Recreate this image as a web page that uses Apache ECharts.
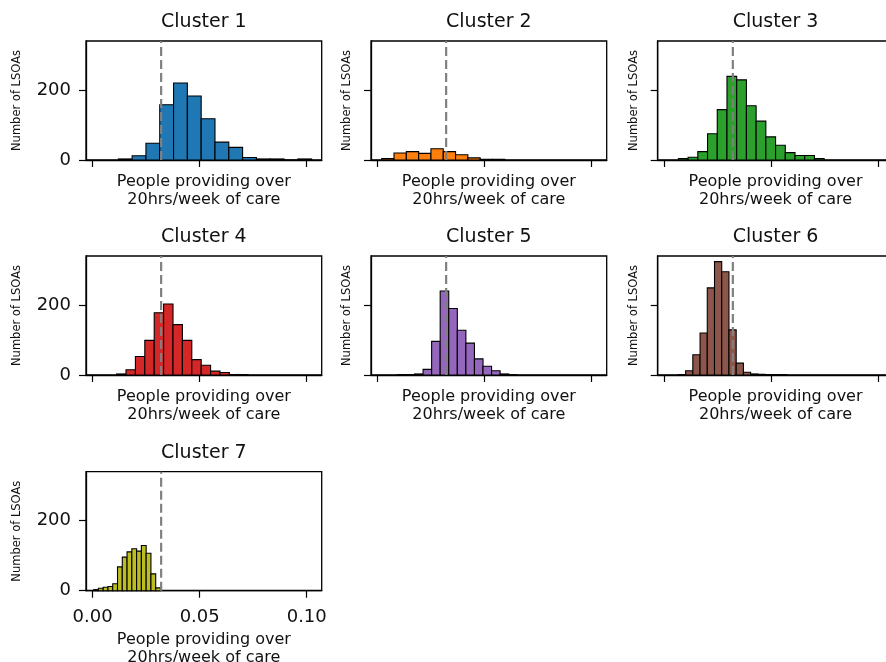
<!DOCTYPE html>
<html>
<head>
<meta charset="utf-8">
<script src="https://cdn.jsdelivr.net/npm/echarts@6/dist/echarts.min.js"></script>
<style>
    html, body { margin: 0; padding: 0; background: #fff; }
    #chart { width: 886px; height: 662px; }
</style>
</head>
<body>
<div id="chart"></div>
<script>
    // histogram per cluster: first bin edge, bin width, counts
    const clusterNames = ['Cluster 1', 'Cluster 2', 'Cluster 3', 'Cluster 4', 'Cluster 5', 'Cluster 6', 'Cluster 7'];
    const clusterColors = ['#1f77b4', '#ff7f0e', '#2ca02c', '#d62728', '#9467bd', '#8c564b', '#bcbd22'];
    const binStart = [0.0120, 0.0019, 0.00656, 0.0112, 0.00922, 0.00656, 0.00047];
    const binWidth = [0.00645, 0.00575, 0.00454, 0.00439, 0.0040, 0.003375, 0.00223];

    const counts1 = [3, 12, 48, 158, 220, 183, 118, 51, 36, 7, 3, 3, 0, 3];
    const counts2 = [4, 20, 24, 19, 32, 24, 15, 6, 2, 2];
    const counts3 = [4, 8, 24, 75, 144, 239, 229, 155, 111, 66, 42, 21, 13, 13, 4];
    const counts4 = [3, 15, 53, 99, 178, 203, 144, 99, 44, 28, 11, 7, 1, 1];
    const counts5 = [1, 1, 3, 16, 96, 240, 190, 128, 91, 46, 25, 12, 3, 1];
    const counts6 = [1, 12, 58, 120, 249, 324, 295, 129, 34, 8, 3, 2, 1, 1, 1];
    const counts7 = [3, 7, 10, 12, 20, 68, 96, 111, 120, 113, 129, 107, 48, 8];

    const meanValue = 0.032;   // dashed reference line
    const xTicks = [0, 0.05, 0.1];
    const yTicks = [0, 200];
    const xMin = -0.0031, xMax = 0.107;
    const yMax = 340;

    const allCounts = [counts1, counts2, counts3, counts4, counts5, counts6, counts7];

    const font = 'DejaVu Sans';
    const colLeft = [86, 371, 657.7];
    const rowTop = [41, 256, 471.7];
    const boxW = 235.7, boxH = 119;

    let grids = [], xAxes = [], yAxes = [], series = [], titles = [];

    allCounts.forEach(function (counts, i) {
        let row = Math.floor(i / 3), col = i % 3;
        let isBottom = (i === 6);
        grids.push({
            left: colLeft[col], top: rowTop[row], width: boxW, height: boxH,
            outerBoundsMode: 'none',
            show: true, borderColor: '#000', borderWidth: 1.3, backgroundColor: 'transparent'
        });
        titles.push({
            text: clusterNames[i],
            left: colLeft[col] + boxW / 2, top: rowTop[row] - 28,
            textAlign: 'center', padding: 0,
            textStyle: { fontFamily: font, fontSize: 19, fontWeight: 'normal', color: '#111' }
        });
        xAxes.push({
            gridIndex: i, type: 'value', min: xMin, max: xMax,
            splitLine: { show: false },
            axisLine: { show: true, onZero: false, lineStyle: { color: '#000', width: 1.3 } },
            axisTick: { show: true, customValues: xTicks, length: 7, lineStyle: { color: '#000', width: 1.2 } },
            axisLabel: {
                show: isBottom, customValues: xTicks, margin: 18,
                fontFamily: font, fontSize: 18, color: '#111',
                formatter: function (v) { return v.toFixed(2); }
            },
            name: 'People providing over\n20hrs/week of care',
            nameLocation: 'middle', nameGap: isBottom ? 40 : 13,
            nameTextStyle: { fontFamily: font, fontSize: 16, lineHeight: 18, color: '#111' }
        });
        yAxes.push({
            gridIndex: i, type: 'value', min: 0, max: yMax,
            splitLine: { show: false },
            axisLine: { show: true, onZero: false, lineStyle: { color: '#000', width: 1.3 } },
            axisTick: { show: true, customValues: yTicks, length: 7, lineStyle: { color: '#000', width: 1.2 } },
            axisLabel: {
                show: col === 0, customValues: yTicks, margin: 15,
                fontFamily: font, fontSize: 18, color: '#111'
            },
            name: 'Number of LSOAs', nameLocation: 'middle', nameRotate: 90,
            nameGap: col === 0 ? 63 : 18,
            nameTextStyle: { fontFamily: font, fontSize: 11.5, color: '#111' }
        });

        let bins = counts.map(function (c, k) {
            let x0 = binStart[i] + k * binWidth[i];
            return [x0, x0 + binWidth[i], c];
        });
        let fill = clusterColors[i];
        series.push({
            type: 'custom', xAxisIndex: i, yAxisIndex: i,
            data: bins,
            encode: { x: [0, 1], y: 2 },
            renderItem: function (params, api) {
                let p0 = api.coord([api.value(0), 0]);
                let p1 = api.coord([api.value(1), api.value(2)]);
                return {
                    type: 'rect',
                    shape: { x: p0[0], y: p1[1], width: p1[0] - p0[0], height: p0[1] - p1[1] },
                    style: { fill: fill, stroke: '#000', lineWidth: 1.1 }
                };
            },
            z: 2
        });
        series.push({
            type: 'line', xAxisIndex: i, yAxisIndex: i,
            data: [[meanValue, 0], [meanValue, yMax]],
            symbol: 'none', silent: true,
            lineStyle: { color: '#808080', width: 2.2, type: [9, 4] },
            z: 3
        });
    });

    let chart = echarts.init(document.getElementById('chart'));
    chart.setOption({
        animation: false,
        backgroundColor: '#fff',
        title: titles,
        grid: grids,
        xAxis: xAxes,
        yAxis: yAxes,
        series: series
    });
</script>
</body>
</html>
